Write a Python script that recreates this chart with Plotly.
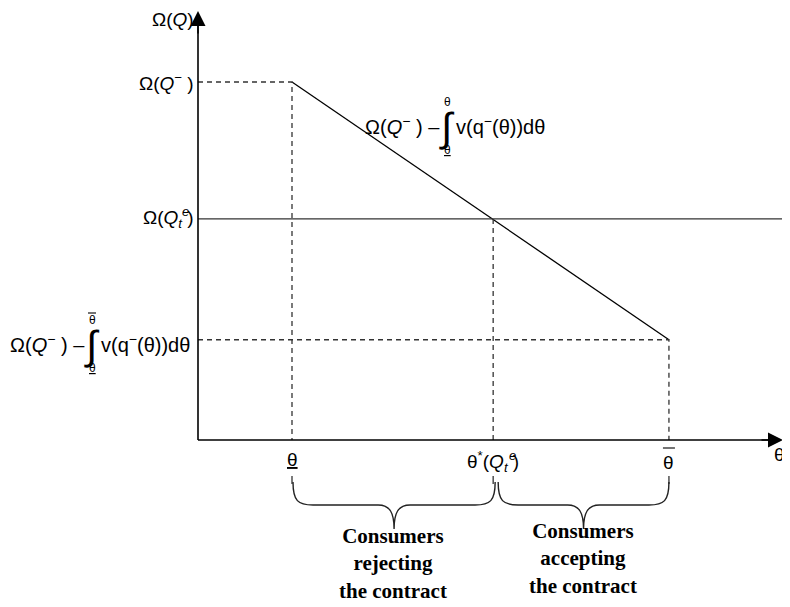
import plotly.graph_objects as go

# ---- data (model units) ----
theta_names = ["θ_low", "θ_star", "θ_high"]
theta_vals = [1.0, 3.14, 5.01]          # θ (lower), θ*(Q_t^e), θ̄
omega_names = ["Ω(Q−)", "Ω(Q_t^e)", "Ω(Q−)−∫v dθ"]
omega_vals = [4.0, 2.47, 1.12]
groups = ["Consumers<br>rejecting<br>the contract", "Consumers<br>accepting<br>the contract"]

# ---- page pixel <-> data mapping (layout only) ----
PAGE_W, PAGE_H = 790, 607
OFF = 8                      # default body margin of the html page
W, H = PAGE_W - OFF, PAGE_H - OFF
X0, SX = 198, 94.0
Y0, SY = 440, 89.5
def px(p):
    return (p - X0) / SX
def py(p):
    return (Y0 - p) / SY
def xp(v):
    return X0 + v * SX

tl, ts, th = theta_vals
oh, oe, ol = omega_vals

SANS = "Liberation Sans, Arial, sans-serif"
SERIF = "Liberation Serif, Times New Roman, serif"
INK = "#000000"
DASHC = "#333333"
FS = 19

fig = go.Figure()

# main downward sloping line
fig.add_trace(go.Scatter(x=[tl, th], y=[oh, ol], mode="lines",
                         line=dict(color=INK, width=1.3), hoverinfo="skip"))
# horizontal solid line at Omega(Q_t^e)
fig.add_trace(go.Scatter(x=[0, px(PAGE_W)], y=[oe, oe], mode="lines",
                         line=dict(color="#333333", width=1.3), hoverinfo="skip"))
# dashed guides
dash = dict(color=DASHC, width=1.3, dash="5px,4px")
fig.add_trace(go.Scatter(x=[0, tl, tl], y=[oh, oh, 0], mode="lines", line=dash, hoverinfo="skip"))
fig.add_trace(go.Scatter(x=[0, th, th], y=[ol, ol, 0], mode="lines", line=dash, hoverinfo="skip"))
fig.add_trace(go.Scatter(x=[ts, ts], y=[oe, 0], mode="lines", line=dash, hoverinfo="skip"))
for xv in theta_vals:
    fig.add_trace(go.Scatter(x=[xv, xv], y=[py(476), py(484)], mode="lines",
                             line=dict(color=DASHC, width=1.3), hoverinfo="skip"))
# axis-end symbol θ (partly beyond the right edge, as in the original)
fig.add_trace(go.Scatter(x=[px(774)], y=[py(456)], mode="text", text=["θ"],
                         textposition="middle right", cliponaxis=False,
                         textfont=dict(family=SANS, size=FS, color=INK), hoverinfo="skip"))

shapes = []
# axes lines
shapes.append(dict(type="line", xref="x", yref="y", x0=0, y0=0, x1=px(772), y1=0,
                   line=dict(color=INK, width=1.6)))
shapes.append(dict(type="line", xref="x", yref="y", x0=0, y0=0, x1=0, y1=py(22),
                   line=dict(color=INK, width=1.6)))

# braces
def brace(x0p, x1p, ytop=482, ymid=505, ytip=529):
    xm = (x0p + x1p) / 2
    pts = [
        f"M {px(x0p)},{py(ytop)}",
        f"C {px(x0p)},{py(ymid-4)} {px(x0p+5)},{py(ymid)} {px(x0p+20)},{py(ymid)}",
        f"L {px(xm-16)},{py(ymid)}",
        f"C {px(xm-4)},{py(ymid)} {px(xm)},{py(ymid+8)} {px(xm)},{py(ytip)}",
        f"C {px(xm)},{py(ymid+8)} {px(xm+4)},{py(ymid)} {px(xm+16)},{py(ymid)}",
        f"L {px(x1p-20)},{py(ymid)}",
        f"C {px(x1p-5)},{py(ymid)} {px(x1p)},{py(ymid-4)} {px(x1p)},{py(ytop)}",
    ]
    return dict(type="path", xref="x", yref="y", path=" ".join(pts),
                line=dict(color="#222222", width=1.4))

shapes.append(brace(xp(tl) + 1, xp(ts) + 2))
shapes.append(brace(xp(ts) + 5, xp(th)))

# overlines for theta-bar labels
def overline(xc, yc, half):
    return dict(type="line", xref="x", yref="y", x0=px(xc - half), x1=px(xc + half),
                y0=py(yc), y1=py(yc), line=dict(color=INK, width=1.1))
shapes.append(overline(xp(th), 448, 6))
shapes.append(overline(92, 313, 4))

ann = []
def txt(x, y, text, size=FS, xanchor="center", yanchor="middle", family=SANS, xref="x"):
    ann.append(dict(x=x, y=y, xref=xref, yref="y", text=text, showarrow=False,
                    xanchor=xanchor, yanchor=yanchor,
                    font=dict(family=family, size=size, color=INK)))

# axis arrowheads
ann.append(dict(x=px(783), y=0, ax=px(760), ay=0, xref="x", yref="y", axref="x", ayref="y",
                text="", showarrow=True, arrowhead=2, arrowsize=2.0, arrowwidth=1.5,
                arrowcolor=INK))
ann.append(dict(x=0, y=py(11), ax=0, ay=py(35), xref="x", yref="y", axref="x", ayref="y",
                text="", showarrow=True, arrowhead=2, arrowsize=2.0, arrowwidth=1.5,
                arrowcolor=INK))

# y-axis labels
txt(px(196), py(19), "Ω(<i>Q</i>)", xanchor="right")
txt(px(196), oh, "Ω(<i>Q</i><sup>−</sup> )", xanchor="right")
txt(px(196), oe, "Ω(<i>Q</i><sub><i>t</i></sub> )", xanchor="right")
txt(px(185), py(211), "<i>e</i>", size=13, xanchor="center")

# integral expressions: left part, integral sign, right part, limits
def integral_label(xint, ycen):
    txt(px(xint - 5), py(ycen), "Ω(<i>Q</i><sup>−</sup> ) –", size=20, xanchor="right")
    txt(px(xint), py(ycen + 2), "∫", size=40, xanchor="center")
    txt(px(xint + 7), py(ycen), "v(q<sup>−</sup>(θ))dθ", size=20, xanchor="left")
    txt(px(xint), py(ycen - 23), "θ", size=12)
    txt(px(xint), py(ycen + 25), "<u>θ</u>", size=12)

integral_label(92, 343)      # lower-left (upper limit θ̄)
integral_label(447, 125)     # on the sloping line (upper limit θ)

# x-axis labels
txt(tl, py(459), "<u>θ</u>")
txt(ts, py(461), "θ<sup>*</sup>(<i>Q</i><sub><i>t</i></sub> )")
txt(px(512), py(455), "<i>e</i>", size=13)
txt(th, py(462), "θ")

# group labels
txt(px(393), py(563), "<b>" + groups[0] + "</b>", size=21, family=SERIF)
txt(px(583), py(558), "<b>" + groups[1] + "</b>", size=21, family=SERIF)

fig.update_layout(
    width=W, height=H,
    margin=dict(l=0, r=0, t=0, b=0),
    paper_bgcolor="white", plot_bgcolor="white",
    showlegend=False,
    xaxis=dict(range=[px(OFF), px(OFF + W)], visible=False, fixedrange=True),
    yaxis=dict(range=[py(OFF + H), py(OFF)], visible=False, fixedrange=True),
    shapes=shapes, annotations=ann,
)

fig.write_html("out.html")
